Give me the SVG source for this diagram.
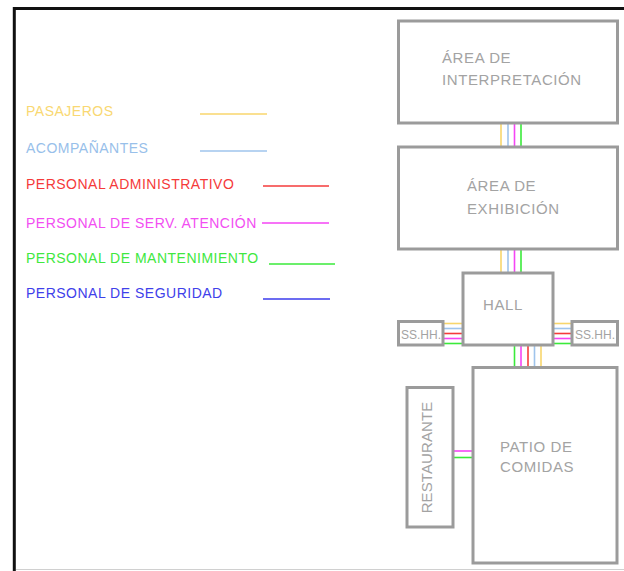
<svg xmlns="http://www.w3.org/2000/svg" width="624" height="571" viewBox="0 0 624 571">
<style>
.box{fill:#fff;stroke:#9b9b9b;stroke-width:3}
.lbl{font-family:"Liberation Sans",Arial,sans-serif;font-size:15px;fill:#a3a3a3;letter-spacing:0.6px}
.sm{font-family:"Liberation Sans",Arial,sans-serif;font-size:12px;fill:#a3a3a3}
.leg{font-family:"Liberation Sans",Arial,sans-serif;font-size:14px;letter-spacing:0.5px}
.c line{stroke-width:1.6}
.y{stroke:#f8d66c}.b{stroke:#9fc4ec}.r{stroke:#f53b3b}.m{stroke:#f545f5}.g{stroke:#3aea3a}.bl{stroke:#3b3bec}
</style>
<rect x="0" y="0" width="624" height="571" fill="#fff"/>
<line x1="14.3" y1="8.5" x2="624" y2="8.5" stroke="#111" stroke-width="3"/>
<line x1="14.3" y1="7" x2="14.3" y2="571" stroke="#111" stroke-width="3"/>
<line x1="16" y1="569.5" x2="624" y2="569.5" stroke="#d0d0d0" stroke-width="1"/>

<g id="legend">
<text class="leg" x="26" y="116" fill="#f9d872">PASAJEROS</text>
<line class="y" x1="200" y1="114" x2="267" y2="114" stroke-width="1.4"/>
<text class="leg" x="26" y="153" fill="#98c0ea">ACOMPAÑANTES</text>
<line class="b" x1="200" y1="151" x2="267" y2="151" stroke-width="1.4"/>
<text class="leg" x="26" y="189" fill="#f53a3a">PERSONAL ADMINISTRATIVO</text>
<line class="r" x1="263" y1="186" x2="329" y2="186" stroke-width="1.4"/>
<text class="leg" x="26" y="228" fill="#f24ef2">PERSONAL DE SERV. ATENCIÓN</text>
<line class="m" x1="262" y1="223" x2="329" y2="223" stroke-width="1.4"/>
<text class="leg" x="26" y="263" fill="#40e840">PERSONAL DE MANTENIMIENTO</text>
<line class="g" x1="269" y1="264" x2="335" y2="264" stroke-width="1.4"/>
<text class="leg" x="26" y="298" fill="#4040ea">PERSONAL DE SEGURIDAD</text>
<line class="bl" x1="263" y1="299" x2="330" y2="299" stroke-width="1.4"/>
</g>

<g id="connectors" class="c">
<line class="y" x1="501" y1="123" x2="501" y2="147"/>
<line class="b" x1="508" y1="123" x2="508" y2="147"/>
<line class="m" x1="514.5" y1="123" x2="514.5" y2="147"/>
<line class="g" x1="521" y1="123" x2="521" y2="147"/>
<line class="y" x1="501" y1="249" x2="501" y2="273"/>
<line class="b" x1="508" y1="249" x2="508" y2="273"/>
<line class="m" x1="514.5" y1="249" x2="514.5" y2="273"/>
<line class="g" x1="521" y1="249" x2="521" y2="273"/>
<line class="g" x1="514.5" y1="345" x2="514.5" y2="367"/>
<line class="m" x1="521" y1="345" x2="521" y2="367"/>
<line class="r" x1="528" y1="345" x2="528" y2="367"/>
<line class="b" x1="534.5" y1="345" x2="534.5" y2="367"/>
<line class="y" x1="541" y1="345" x2="541" y2="367"/>
<line class="y" x1="443" y1="323.5" x2="463" y2="323.5"/>
<line class="b" x1="443" y1="328.5" x2="463" y2="328.5"/>
<line class="r" x1="443" y1="333.5" x2="463" y2="333.5"/>
<line class="m" x1="443" y1="338.5" x2="463" y2="338.5"/>
<line class="g" x1="443" y1="343.5" x2="463" y2="343.5"/>
<line class="y" x1="553" y1="323.5" x2="572" y2="323.5"/>
<line class="b" x1="553" y1="328.5" x2="572" y2="328.5"/>
<line class="r" x1="553" y1="333.5" x2="572" y2="333.5"/>
<line class="m" x1="553" y1="338.5" x2="572" y2="338.5"/>
<line class="g" x1="553" y1="343.5" x2="572" y2="343.5"/>
<line class="m" x1="453" y1="451" x2="473" y2="451"/>
<line class="g" x1="453" y1="457.5" x2="473" y2="457.5"/>
</g>

<g id="interpretacion">
<rect class="box" x="398.5" y="21" width="219" height="102"/>
<text class="lbl" x="442" y="63">ÁREA DE</text>
<text class="lbl" x="442" y="85">INTERPRETACIÓN</text>
</g>
<g id="exhibicion">
<rect class="box" x="398.5" y="147" width="219" height="102"/>
<text class="lbl" x="467" y="191">ÁREA DE</text>
<text class="lbl" x="467" y="214">EXHIBICIÓN</text>
</g>
<g id="hall">
<rect class="box" x="463" y="273" width="90" height="72"/>
<text class="lbl" x="503" y="310" text-anchor="middle">HALL</text>
</g>
<g id="sshh-left">
<rect class="box" x="398.5" y="321.5" width="44.5" height="23.5"/>
<text class="sm" x="421" y="338.5" text-anchor="middle">SS.HH.</text>
</g>
<g id="sshh-right">
<rect class="box" x="572" y="321.5" width="45.5" height="23.5"/>
<text class="sm" x="595" y="338.5" text-anchor="middle">SS.HH.</text>
</g>
<g id="patio">
<rect class="box" x="473" y="367.5" width="144" height="195.5"/>
<text class="lbl" x="500" y="452">PATIO DE</text>
<text class="lbl" x="500" y="472">COMIDAS</text>
</g>
<g id="restaurante">
<rect class="box" x="407" y="387.5" width="46" height="139.5"/>
<text class="lbl" transform="translate(432 457.5) rotate(-90)" text-anchor="middle" style="letter-spacing:0.1px">RESTAURANTE</text>
</g>
</svg>
